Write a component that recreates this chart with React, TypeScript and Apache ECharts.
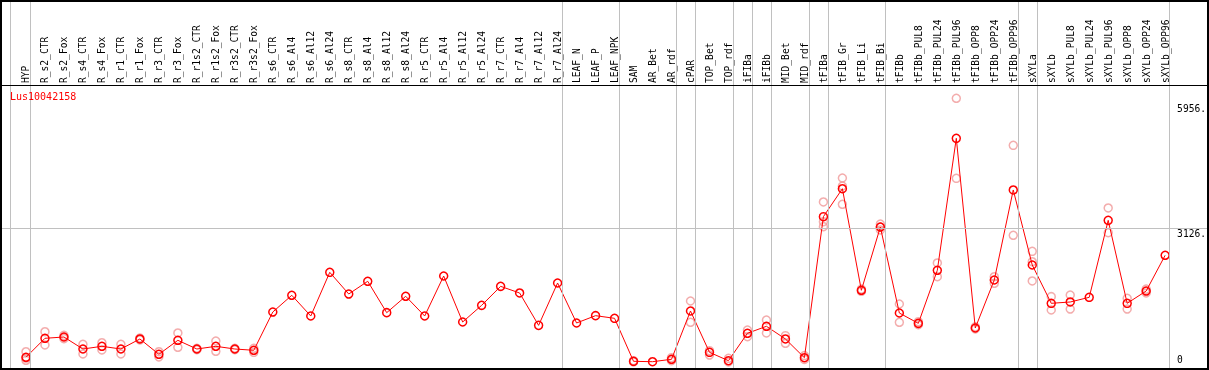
import React, { useEffect, useRef } from "react";
import * as echarts from "echarts";

const geneId = "Lus10042158";

const categories = [
  "HYP", "R_s2_CTR", "R_s2_Fox", "R_s4_CTR", "R_s4_Fox", "R_r1_CTR", "R_r1_Fox", "R_r3_CTR", "R_r3_Fox",
  "R_r1s2_CTR", "R_r1s2_Fox", "R_r3s2_CTR", "R_r3s2_Fox", "R_s6_CTR", "R_s6_Al4", "R_s6_Al12", "R_s6_Al24",
  "R_s8_CTR", "R_s8_Al4", "R_s8_Al12", "R_s8_Al24", "R_r5_CTR", "R_r5_Al4", "R_r5_Al12", "R_r5_Al24",
  "R_r7_CTR", "R_r7_Al4", "R_r7_Al12", "R_r7_Al24", "LEAF_N", "LEAF_P", "LEAF_NPK", "SAM", "AR_Bet", "AR_rdf",
  "cPAR", "TOP_Bet", "TOP_rdf", "iFIBa", "iFIBb", "MID_Bet", "MID_rdf", "tFIBa", "tFIB_Gr", "tFIB_Li", "tFIB_Bi",
  "tFIBb", "tFIBb_PUL8", "tFIBb_PUL24", "tFIBb_PUL96", "tFIBb_OPP8", "tFIBb_OPP24", "tFIBb_OPP96",
  "sXYLa", "sXYLb", "sXYLb_PUL8", "sXYLb_PUL24", "sXYLb_PUL96", "sXYLb_OPP8", "sXYLb_OPP24", "sXYLb_OPP96",
];

const means = [
  110, 553, 583, 303, 366, 303, 537, 180, 506, 303, 366, 303, 273,
  1166, 1556, 1073, 2092, 1586, 1883, 1151, 1533, 1073, 2006, 933, 1322, 1765, 1610, 855, 1843,
  910, 1081, 1019, 16, 7, 63, 1190, 226, 30, 670, 833, 537, 100,
  3390, 4043, 1673, 3149, 1143, 902, 2139, 5218, 793, 1913, 4013,
  2263, 1369, 1400, 1509, 3305, 1369, 1656, 2489,
];

const repA = [
  240, 707, 620, 413, 450, 413, 560, 240, 677, 320, 490, 320, 320,
  null, null, null, null, null, null, null, null, null, null, null, null, null, null, null, null,
  null, null, null, 30, null, 100, 1423, 264, 86, 746, 980, 614, 150,
  3733, 4292, 1700, 3219, 1353, 940, 2310, 6152, 820, 1990, 5055,
  2582, 1524, 1563, null, 3593, 1486, 1700, null,
];
const repB = [
  90, 397, 545, 187, 280, 187, 515, 120, 343, 286, 250, 286, 226,
  null, null, null, null, null, null, null, null, null, null, null, null, null, null, null, null,
  null, null, null, 2, null, 30, 926, 163, 0, 590, 677, 436, 60,
  3273, 4106, 1650, 3149, 926, 870, 1990, 4285, 770, 1836, 2956,
  2340, 1213, 1236, null, 3017, 1236, 1610, null,
];
const repC = [
  40, null, null, null, null, null, null, null, null, null, null, null, null,
  null, null, null, null, null, null, null, null, null, null, null, null, null, null, null, null,
  null, null, null, null, null, null, null, null, null, null, null, null, null,
  3157, 3679, null, 3080, null, null, null, null, null, null, null,
  1890, null, null, null, null, null, null, null,
];

const separators = [-0.84, 0.25, 28.25, 31.25, 34.25, 35.25, 37.25, 38.25, 39.25, 41.25, 42.25, 45.25, 52.25, 53.25, 60.21];
const gridValue = 3126;
const yTicks = [0, 3126, 5956];

const FONT = "'DejaVu Sans Mono', monospace";

export default function App() {
  const ref = useRef<HTMLDivElement>(null);
  useEffect(() => {
    if (!ref.current) return;
    const chart = echarts.init(ref.current, null, { renderer: "svg" });
    const reps: [number, number][] = [];
    [repA, repB, repC].forEach((arr) =>
      arr.forEach((v, i) => {
        if (v !== null && v !== undefined) reps.push([i, v as number]);
      })
    );
    const labelStyle = { color: "#000", fontFamily: FONT, fontSize: 9.6 };
    chart.setOption({
      animation: false,
      title: {
        text: geneId,
        left: 10,
        top: 91,
        padding: 0,
        textStyle: { color: "#ff0000", fontFamily: FONT, fontSize: 10, fontWeight: "normal" },
      },
      grid: { left: 0, right: 0, top: 0, bottom: 2, containLabel: false },
      xAxis: {
        type: "value",
        position: "top",
        offset: -86,
        min: -1.368,
        max: 62.263,
        axisLine: { show: false },
        axisTick: { show: false },
        splitLine: { show: false },
        axisLabel: {
          customValues: categories.map((_, i) => i),
          formatter: (v: number) => categories[Math.round(v)] ?? "",
          rotate: 90,
          margin: 3,
          ...labelStyle,
        },
      },
      yAxis: {
        type: "value",
        position: "right",
        offset: -39,
        min: -140,
        max: 8445,
        axisLine: { show: false },
        axisTick: { show: false },
        splitLine: { show: false },
        axisLabel: {
          customValues: yTicks,
          formatter: (v: number) =>
            v === 0 ? "{z|0}" : v === gridValue ? "{m|" + v + ".}" : "{t|" + v + ".}",
          margin: 8,
          ...labelStyle,
          rich: {
            z: { ...labelStyle, padding: [0, 0, 4, 0] },
            m: { ...labelStyle, padding: [10, 0, 0, 0] },
            t: { ...labelStyle, padding: [4, 0, 0, 0] },
          },
        },
      },
      graphic: [
        {
          type: "line",
          shape: { x1: 0, y1: 85.5, x2: 1209, y2: 85.5 },
          style: { stroke: "#000", lineWidth: 1 },
          z: 100,
        },
        {
          type: "rect",
          shape: { x: 1, y: 1, width: 1207, height: 368 },
          style: { fill: "none", stroke: "#000", lineWidth: 2 },
          z: 100,
        },
      ],
      series: [
        {
          type: "line",
          data: [],
          markLine: {
            silent: true,
            symbol: "none",
            label: { show: false },
            lineStyle: { color: "#c0c0c0", width: 1, type: "solid" },
            data: [...separators.map((x) => ({ xAxis: x })), { yAxis: gridValue }],
          },
        },
        {
          type: "scatter",
          data: reps,
          symbol: "circle",
          symbolSize: 8,
          itemStyle: { color: "rgba(0,0,0,0)", borderColor: "#f09898", borderWidth: 1.5 },
        },
        {
          type: "line",
          data: means.map((v, i) => [i, v]),
          symbol: "circle",
          symbolSize: 8,
          showAllSymbol: true,
          lineStyle: { color: "#ff0000", width: 1 },
          itemStyle: { color: "rgba(0,0,0,0)", borderColor: "#ff0000", borderWidth: 1.5 },
        },
      ],
    });
    return () => chart.dispose();
  }, []);
  return <div ref={ref} style={{ position: "fixed", left: 0, top: 0, width: 1209, height: 370 }} />;
}
